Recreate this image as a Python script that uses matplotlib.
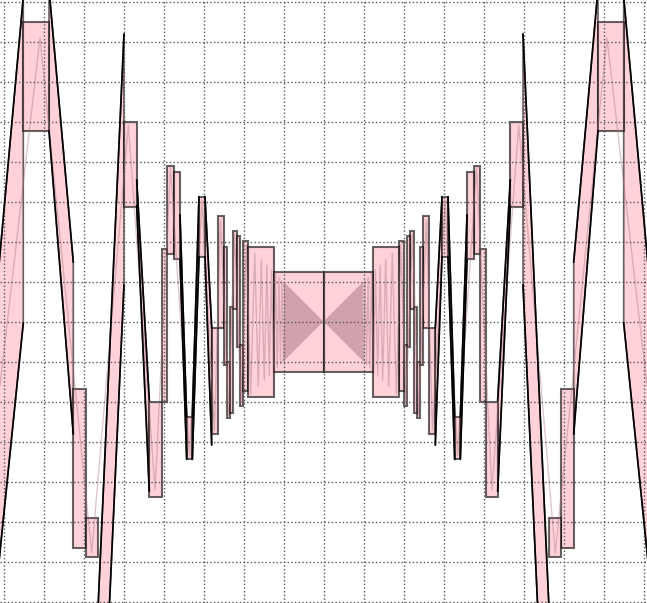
import matplotlib
matplotlib.use("Agg")
import matplotlib.pyplot as plt
from matplotlib.patches import Rectangle, Polygon
from matplotlib.ticker import MultipleLocator

# Values, in grid units (x = 0 is the centre line).
# Only the left half is listed: the right half is its mirror image.

# min/max boxes
rect_x0 = [-7.505, -6.255, -5.9375, -4.9875, -4.355, -4.05, -3.905, -3.75, -3.42, -3.1125,
           -2.795, -2.645, -2.495, -2.405, -2.3375, -2.255, -2.17, -2.095, -2.0125, -1.88, -1.2375]
rect_x1 = [-6.8625, -5.9375, -5.63, -4.67, -4.05, -3.905, -3.75, -3.5875, -3.28, -2.9625,
           -2.645, -2.495, -2.405, -2.3375, -2.255, -2.17, -2.095, -2.0125, -1.88, -1.2375, 0.0]
rect_lo = [4.77, -5.6625, -5.8875, 2.8625, -4.3875, -2.0125, 1.68, 1.555, -3.445, 1.62,
           -2.82, -0.155, -1.095, -2.42, -2.28, 0.32, -0.63, -2.1125, -1.7375, -1.88, -1.25]
rect_hi = [7.495, -1.6875, -4.9125, 4.9875, -2.0, 1.825, 3.895, 3.7375, -2.3875, 3.1125,
           -0.155, 2.6375, 1.8625, -1.0125, 0.3625, 2.2625, 2.145, -0.58, 2.02, 1.8625, 1.25]

# connecting bands between boxes (vertical ends at band_x0 / band_x1)
band_x0 = [-8.3375, -6.8625, -5.63, -4.67, -3.5875, -3.28, -2.9625]
band_x1 = [-7.505, -6.255, -4.9875, -4.355, -3.42, -3.1125, -2.795]
band_lo0 = [-8.2125, 4.7625, -13.2, 2.8875, 1.5375, -3.445, 1.62]
band_hi0 = [-1.0625, 8.3125, -7.0125, 3.5375, 2.6625, -2.3875, 3.1125]
band_lo1 = [-0.0375, -2.8125, 0.9125, -4.2375, -3.4375, 1.62, -3.0875]
band_hi1 = [8.1125, 1.4875, 7.1875, -1.9625, -2.3875, 3.1125, -0.155]

# thin underlying curve: its turning points
curve_x = [-8.0875, -7.0875, -5.795, -4.88, -4.21, -3.825, -3.35, -3.04, -2.725, -2.575,
           -2.375, -2.225, -2.06, -1.93, -1.82, -1.72, -1.63, -1.555, -1.48, -1.415,
           -1.355, -1.30, -1.25, -1.20, -1.155, -1.115, -1.075, -1.04, -1.005]
curve_y = [-1.6, 7.09, -5.79, 4.91, -4.21, 3.84, -3.34, 3.04, -2.725, 2.54,
           -2.34, 2.19, -2.03, 1.92, -1.81, 1.71, -1.62, 1.55, -1.47, 1.41,
           -1.35, 1.29, -1.24, 1.19, -1.15, 1.11, -1.07, 1.03, -1.0]

# envelope of the dense oscillation near the centre
dense_x = [-1.0, 0.0, -1.0]
dense_y = [1.0, 0.0, -1.0]

pink = (1.0, 0.753, 0.796, 0.7)
edge = (0.0, 0.0, 0.0, 0.6)
curve_col = (0.65, 0.45, 0.5)

fig = plt.figure(figsize=(6.47, 6.03), dpi=100)
ax = fig.add_axes([0, 0, 1, 1])

for s in (1, -1):
    # bands
    for x0, x1, lo0, hi0, lo1, hi1 in zip(band_x0, band_x1, band_lo0, band_hi0, band_lo1, band_hi1):
        pts = [(s * x0, lo0), (s * x0, hi0), (s * x1, hi1), (s * x1, lo1)]
        ax.add_patch(Polygon(pts, closed=True, facecolor=pink, edgecolor=edge, lw=1.2, zorder=1))
        ax.plot([s * x0, s * x1], [hi0, hi1], color='black', lw=1.2, zorder=2)
        ax.plot([s * x0, s * x1], [lo0, lo1], color='black', lw=1.2, zorder=2)

    # boxes
    for x0, x1, lo, hi in zip(rect_x0, rect_x1, rect_lo, rect_hi):
        left = min(s * x0, s * x1)
        ax.add_patch(Rectangle((left, lo), abs(x1 - x0), hi - lo,
                               facecolor=pink, edgecolor=edge, lw=1.5, zorder=1))

    # thin curve
    ax.plot([s * v for v in curve_x], curve_y, color=curve_col, alpha=0.4, lw=1.0, zorder=1.2)
    ax.add_patch(Polygon(list(zip([s * v for v in dense_x], dense_y)), closed=True,
                         facecolor=curve_col, alpha=0.5, lw=0, zorder=1.2))

ax.set_xlim(-8.0875, 8.0875)
ax.set_ylim(-7.0375, 8.0375)
ax.xaxis.set_major_locator(MultipleLocator(1))
ax.yaxis.set_major_locator(MultipleLocator(1))
ax.grid(True, linestyle=':', color='#555555', lw=1.0)
ax.tick_params(length=0, labelbottom=False, labelleft=False)
for sp in ax.spines.values():
    sp.set_visible(False)

fig.savefig('out.png', dpi=100)
